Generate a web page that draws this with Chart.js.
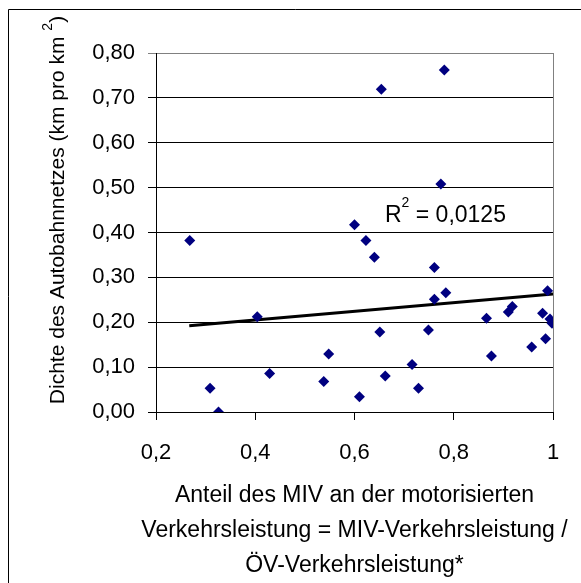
<!DOCTYPE html>
<html>
<head>
<meta charset="utf-8">
<script src="https://cdn.jsdelivr.net/npm/chart.js@4.4.0/dist/chart.umd.min.js"></script>
<style>
  html, body { margin: 0; padding: 0; background: #fff; }
  #wrap { width: 581px; height: 583px; }
</style>
</head>
<body>
<div id="wrap"><canvas id="chart" width="581" height="583"></canvas></div>
<script>
// Anteil MIV (x) vs. Dichte des Autobahnnetzes (y)
const shareMiv = [0.268, 0.309, 0.326, 0.404, 0.429, 0.538, 0.548, 0.600, 0.610, 0.623,
                  0.640, 0.651, 0.654, 0.662, 0.716, 0.729, 0.749, 0.761, 0.761, 0.774,
                  0.781, 0.784, 0.866, 0.876, 0.910, 0.918, 0.957, 0.979, 0.985, 0.989,
                  0.994, 0.998];
const density  = [0.382, 0.053, 0.000, 0.212, 0.086, 0.068, 0.129, 0.417, 0.034, 0.382,
                  0.345, 0.178, 0.719, 0.080, 0.106, 0.053, 0.183, 0.322, 0.251, 0.508,
                  0.762, 0.266, 0.209, 0.125, 0.223, 0.235, 0.145, 0.220, 0.163, 0.270,
                  0.207, 0.198];

// linear trend line end points
const trendX = [0.267, 1.0];
const trendY = [0.192, 0.263];
const rSquared = '0,0125';

const xTickValues = [0.2, 0.4, 0.6, 0.8, 1.0];
const xTickLabels = ['0,2', '0,4', '0,6', '0,8', '1'];
const yTickValues = [0, 0.1, 0.2, 0.3, 0.4, 0.5, 0.6, 0.7, 0.8];
const yTickLabels = ['0,00', '0,10', '0,20', '0,30', '0,40', '0,50', '0,60', '0,70', '0,80'];

const FONT = '"Liberation Sans", Arial, sans-serif';

const points = shareMiv.map((x, i) => ({ x: x, y: density[i] }));
const trend = trendX.map((x, i) => ({ x: x, y: trendY[i] }));

// background, frame, right border and the texts Chart.js can't do (superscripts)
const decorations = {
    id: 'decorations',
    beforeDraw(chart) {
        const ctx = chart.ctx;
        ctx.save();
        ctx.fillStyle = '#fff';
        ctx.fillRect(0, 0, chart.width, chart.height);
        ctx.strokeStyle = '#000';
        ctx.lineWidth = 1;
        ctx.beginPath();
        ctx.moveTo(8.5, chart.height + 2);
        ctx.lineTo(8.5, 9.5);
        ctx.lineTo(chart.width + 2, 9.5);
        ctx.stroke();
        ctx.restore();
    },
    afterDraw(chart) {
        const ctx = chart.ctx;
        const area = chart.chartArea;
        ctx.save();

        // right border of the plot area
        ctx.strokeStyle = '#808080';
        ctx.lineWidth = 1;
        ctx.beginPath();
        ctx.moveTo(Math.round(area.right) + 0.5, area.top);
        ctx.lineTo(Math.round(area.right) + 0.5, area.bottom);
        ctx.stroke();

        ctx.fillStyle = '#000';

        // y axis title (rotated, with superscript)
        const main = 'Dichte des Autobahnnetzes (km pro km ';
        ctx.translate(64, 210);
        ctx.rotate(-Math.PI / 2);
        ctx.textBaseline = 'alphabetic';
        ctx.textAlign = 'left';
        ctx.font = '21px ' + FONT;
        const wMain = ctx.measureText(main).width;
        const wClose = ctx.measureText(')').width;
        ctx.font = '14px ' + FONT;
        const wSup = ctx.measureText('2').width;
        let sx = -(wMain + wSup + wClose) / 2;
        ctx.font = '21px ' + FONT;
        ctx.fillText(main, sx, 0);
        sx += wMain;
        ctx.font = '14px ' + FONT;
        ctx.fillText('2', sx, -12);
        sx += wSup;
        ctx.font = '21px ' + FONT;
        ctx.fillText(')', sx, 0);
        ctx.setTransform(1, 0, 0, 1, 0, 0);

        // x axis title, three lines
        const cx = (area.left + area.right) / 2;
        ctx.font = '23px ' + FONT;
        ctx.textAlign = 'center';
        ctx.fillText('Anteil des MIV an der motorisierten', cx, 502);
        ctx.fillText('Verkehrsleistung = MIV-Verkehrsleistung /', cx, 537);
        ctx.fillText('ÖV-Verkehrsleistung*', cx, 572);

        // R² label
        ctx.textAlign = 'left';
        let rx = 385;
        ctx.font = '23px ' + FONT;
        ctx.fillText('R', rx, 222);
        rx += ctx.measureText('R').width;
        ctx.font = '14px ' + FONT;
        ctx.fillText('2', rx, 207);
        rx += ctx.measureText('2').width;
        ctx.font = '23px ' + FONT;
        ctx.fillText(' = ' + rSquared, rx, 222);

        ctx.restore();
    }
};

new Chart(document.getElementById('chart'), {
    type: 'scatter',
    data: {
        datasets: [{
            label: 'Regionen',
            data: points,
            pointStyle: 'rectRot',
            pointRadius: 5.5,
            pointBorderWidth: 0,
            backgroundColor: '#000080',
            borderColor: '#000080'
        }, {
            type: 'line',
            label: 'Trend',
            data: trend,
            borderColor: '#000',
            borderWidth: 3,
            pointRadius: 0,
            fill: false
        }]
    },
    options: {
        responsive: false,
        animation: false,
        layout: { padding: { left: 0, right: 28, top: 53, bottom: 0 } },
        plugins: {
            legend: { display: false },
            tooltip: { enabled: false }
        },
        scales: {
            x: {
                type: 'linear',
                min: 0.2,
                max: 1,
                afterBuildTicks: (scale) => { scale.ticks = xTickValues.map(v => ({ value: v })); },
                afterFit: (scale) => { scale.height = 171; },
                border: { display: true, color: '#000', width: 1 },
                grid: { drawOnChartArea: false, drawTicks: true, tickLength: 8, color: '#000' },
                ticks: {
                    color: '#000',
                    font: { family: FONT, size: 22 },
                    padding: 20,
                    maxRotation: 0,
                    callback: (v, i) => xTickLabels[i]
                }
            },
            y: {
                type: 'linear',
                min: 0,
                max: 0.8,
                afterBuildTicks: (scale) => { scale.ticks = yTickValues.map(v => ({ value: v })); },
                afterFit: (scale) => { scale.width = 156; },
                border: { display: true, color: '#000', width: 1 },
                grid: {
                    drawTicks: true,
                    tickLength: 8,
                    color: (c) => (c.tick && Math.abs(c.tick.value - 0.8) < 1e-9) ? '#808080' : '#000'
                },
                ticks: {
                    color: '#000',
                    font: { family: FONT, size: 22 },
                    padding: 13,
                    callback: (v, i) => yTickLabels[i]
                }
            }
        }
    },
    plugins: [decorations]
});
</script>
</body>
</html>
